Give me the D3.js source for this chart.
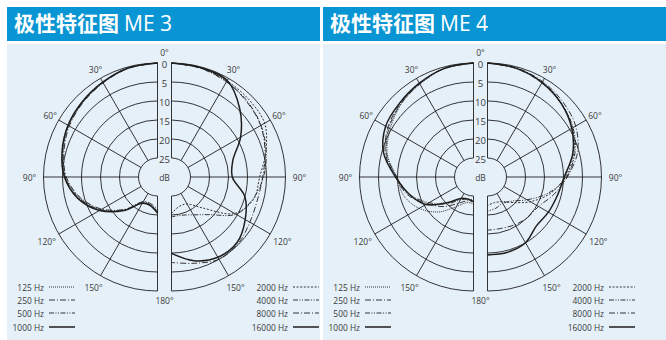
<!DOCTYPE html>
<html>
<head>
<meta charset="utf-8">
<script src="https://d3js.org/d3.v7.min.js"></script>
<style>
  body { margin: 0; background: #fff; }
  text { font-family: "Open Sans", "Noto Sans", sans-serif; fill: #3a3a3a; }
  .head { font-size: 21px; fill: #fff; }
</style>
</head>
<body>
<div id="chart"></div>
<script>
// angles in degrees, 0 = front (top)
var angles = [0, 15, 30, 45, 60, 75, 90, 105, 120, 135, 150, 165, 180];

// ME 3, values in dB below the 0 dB ring
var me3_125   = [0, 0.3, 1.3, 2.2, 3.0, 4.2, 5.8, 8.8, 12.8, 17.8, 22.4, 22.6, 21.0];
var me3_250   = [0, 0.4, 1.4, 2.3, 3.2, 4.5, 6.0, 9.0, 13.1, 18.0, 22.5, 22.8, 21.5];
var me3_500   = [0, 0.3, 1.2, 2.1, 2.9, 4.2, 5.7, 8.6, 12.6, 17.6, 22.2, 22.4, 21.0];
var me3_1000  = [0, 0.3, 1.2, 2.0, 2.8, 4.0, 5.5, 8.3, 12.4, 17.5, 22.0, 22.3, 20.5];
var me3_2000  = [0, 0.3, 0.8, 1.2, 1.7, 4.3, 6.8, 7.6, 10.8, 18.5, 21.8, 22.0, 20.4];
var me3_4000  = [0, 0.4, 1.1, 1.8, 2.8, 4.2, 5.8, 7.8, 10.4, 16.0, 18.5, 19.6, 19.5];
var me3_8000  = [0, 0.3, 1.0, 2.0, 2.9, 4.5, 6.0, 6.6, 6.2, 5.2, 5.0, 6.5, 7.5];
var me3_16000 = [0, 0.2, 0.7, 4.6, 9.0, 13.3, 14.0, 10.0, 7.6, 5.6, 5.6, 7.2, 9.9];

// ME 4
var me4_125   = [0, 0.5, 1.8, 3.0, 4.7, 6.5, 9.8, 11.0, 13.5, 17.0, 21.0, 23.0, 23.0];
var me4_250   = [0, 0.4, 1.6, 2.7, 4.0, 6.0, 9.5, 12.0, 16.0, 19.0, 22.0, 23.5, 23.5];
var me4_500   = [0, 0.4, 1.7, 2.9, 4.3, 6.3, 9.8, 12.5, 16.5, 20.0, 23.0, 24.0, 24.0];
var me4_1000  = [0, 0.4, 1.5, 2.5, 3.3, 5.5, 9.5, 12.5, 15.5, 20.5, 23.5, 24.0, 23.5];
var me4_2000  = [0, 0.4, 1.2, 2.5, 4.2, 6.5, 9.5, 13.0, 17.0, 20.5, 22.5, 23.0, 22.5];
var me4_4000  = [0, 0.5, 1.4, 2.6, 4.0, 6.2, 9.2, 13.5, 18.0, 21.0, 22.0, 21.5, 21.0];
var me4_8000  = [0, 0.3, 1.0, 2.0, 3.2, 5.5, 9.0, 12.0, 14.5, 15.0, 15.5, 16.0, 16.0];
var me4_16000 = [0, 0.4, 1.3, 2.6, 4.4, 6.8, 9.8, 11.0, 11.5, 11.8, 10.0, 9.5, 9.5];

var titles = ["极性特征图", "极性特征图"];
var models = ["ME 3", "ME 4"];
var lowFreqs = ["125 Hz", "250 Hz", "500 Hz", "1000 Hz"];
var highFreqs = ["2000 Hz", "4000 Hz", "8000 Hz", "16000 Hz"];
var dbTicks = [0, 5, 10, 15, 20, 25];
var spokeAngles = [30, 60, 90, 120, 150];

// line styles per frequency slot
var dashLow = ["1,1", "6,2,1,2", "5,1.5,1,1.5,1,1.5", null];
var dashHigh = ["2,1.6", "5,1.5,1,1.5,1,1.5", "6,2,1,2", null];

var W = 666, H = 340;
var R = 114, cy = 177;
var rScale = d3.scaleLinear().domain([0, 30]).range([R, 0]);

var panels = [
  {ox: 0, w: 313, low: [me3_125, me3_250, me3_500, me3_1000], high: [me3_2000, me3_4000, me3_8000, me3_16000]},
  {ox: 316, w: 343, low: [me4_125, me4_250, me4_500, me4_1000], high: [me4_2000, me4_4000, me4_8000, me4_16000]}
];

var svg = d3.select("#chart").append("svg").attr("width", W).attr("height", H);

function halfArc(r, side) {
  var p = d3.path();
  p.moveTo(0, -r);
  p.arc(0, 0, r, -Math.PI / 2, Math.PI / 2, side < 0);
  return p.toString();
}

var radial = d3.lineRadial().curve(d3.curveCatmullRom.alpha(0.5));

panels.forEach(function(pn, i) {
  var g = svg.append("g");
  var x0 = 7 + pn.ox;
  g.append("rect").attr("x", x0).attr("y", 7).attr("width", pn.w).attr("height", 34).attr("fill", "#0995d3");
  g.append("rect").attr("x", x0).attr("y", 44).attr("width", pn.w).attr("height", H - 44).attr("fill", "#e6f0f9");

  var head = g.append("text").attr("class", "head").attr("x", x0 + 7).attr("y", 31);
  head.append("tspan").attr("font-family", "'Noto Sans CJK SC'").attr("font-weight", 700).style("fill", "#fff").text(titles[i]);
  head.append("tspan").attr("dx", 5).attr("font-family", "'Open Sans'").attr("font-weight", 500).style("fill", "#fff").text(models[i]);

  var mid = 164.5 + pn.ox;
  [-1, 1].forEach(function(side) {
    var cx = mid + side * 7;
    var h = g.append("g").attr("transform", "translate(" + cx + "," + cy + ")");
    var grid = h.append("g").attr("fill", "none").attr("stroke", "#1e1e1e").attr("stroke-width", 0.9);
    dbTicks.forEach(function(d) {
      grid.append("path").attr("d", halfArc(rScale(d), side));
    });
    grid.append("line").attr("x1", 0).attr("x2", 0).attr("y1", -rScale(0)).attr("y2", -rScale(25));
    grid.append("line").attr("x1", 0).attr("x2", 0).attr("y1", rScale(25)).attr("y2", rScale(0));
    spokeAngles.forEach(function(a) {
      var t = a * Math.PI / 180;
      grid.append("line")
        .attr("x1", side * rScale(25) * Math.sin(t)).attr("y1", -rScale(25) * Math.cos(t))
        .attr("x2", side * rScale(0) * Math.sin(t)).attr("y2", -rScale(0) * Math.cos(t));
      var lr = a === 30 || a === 60 ? 124 : 128;
      h.append("text")
        .attr("x", side * lr * Math.sin(t)).attr("y", -lr * Math.cos(t))
        .attr("text-anchor", "middle").attr("dominant-baseline", "central")
        .attr("font-size", 8.5).text(a + "°");
    });

    var series = side < 0 ? pn.low : pn.high;
    var dashes = side < 0 ? dashLow : dashHigh;
    series.forEach(function(vals, k) {
      var pts = angles.map(function(a, j) { return [side * a * Math.PI / 180, rScale(vals[j])]; });
      h.append("path").attr("d", radial(pts))
        .attr("fill", "none").attr("stroke", "#1e1e1e")
        .attr("stroke-width", dashes[k] ? 0.9 : 1.5)
        .attr("stroke-dasharray", dashes[k]);
    });
  });

  // centre labels
  g.append("text").attr("x", mid).attr("y", 52).attr("text-anchor", "middle").attr("dominant-baseline", "central").attr("font-size", 8.5).text("0°");
  g.append("text").attr("x", mid).attr("y", 300).attr("text-anchor", "middle").attr("dominant-baseline", "central").attr("font-size", 8.5).text("180°");
  g.append("text").attr("x", mid).attr("y", cy).attr("text-anchor", "middle").attr("dominant-baseline", "central").attr("font-size", 8.5).text("dB");
  dbTicks.forEach(function(d) {
    g.append("text").attr("x", mid).attr("y", cy - rScale(d) + 1.5)
      .attr("text-anchor", "middle").attr("dominant-baseline", "central")
      .attr("font-size", 9.5).text(d);
  });

  // legends
  var rows = [287, 300, 313, 327];
  [[lowFreqs, dashLow, 44], [highFreqs, dashHigh, 288]].forEach(function(lg) {
    lg[0].forEach(function(f, k) {
      var tx = lg[2] + pn.ox;
      g.append("text").attr("x", tx).attr("y", rows[k]).attr("text-anchor", "end")
        .attr("dominant-baseline", "central").attr("font-size", 8.4).text(f);
      g.append("line").attr("x1", tx + 5).attr("x2", tx + 31).attr("y1", rows[k]).attr("y2", rows[k])
        .attr("stroke", "#1e1e1e").attr("stroke-width", lg[1][k] ? 0.9 : 1.5)
        .attr("stroke-dasharray", lg[1][k]);
    });
  });
});
</script>
</body>
</html>
